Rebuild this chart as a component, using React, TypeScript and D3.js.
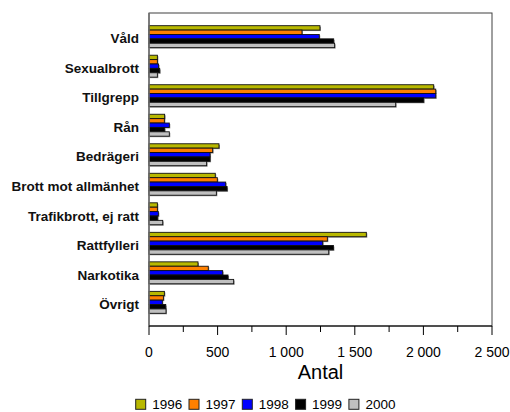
import * as d3 from "d3";
import { useEffect, useRef } from "react";

const categories = [
  "Våld",
  "Sexualbrott",
  "Tillgrepp",
  "Rån",
  "Bedrägeri",
  "Brott mot allmänhet",
  "Trafikbrott, ej ratt",
  "Rattfylleri",
  "Narkotika",
  "Övrigt",
];

const years = ["1996", "1997", "1998", "1999", "2000"];

const values1996 = [1246, 61, 2075, 114, 510, 483, 61, 1584, 357, 112];
const values1997 = [1115, 61, 2090, 112, 464, 498, 61, 1300, 432, 105];
const values1998 = [1241, 70, 2090, 148, 445, 559, 68, 1266, 537, 97];
const values1999 = [1346, 78, 2002, 114, 445, 569, 63, 1344, 576, 122];
const values2000 = [1353, 61, 1798, 148, 420, 491, 100, 1310, 617, 124];

const colors = ["#b8b800", "#ff8000", "#0000ff", "#000000", "#c0c0c0"];

const xTicks = [0, 250, 500, 750, 1000, 1250, 1500, 1750, 2000, 2250, 2500];

const W = 510;
const H = 412;
const FONT = "Arial, 'Liberation Sans', sans-serif";

export default function App() {
  const ref = useRef<SVGSVGElement>(null);

  useEffect(() => {
    const svg = d3.select(ref.current);
    svg.selectAll("*").remove();

    const series = [values1996, values1997, values1998, values1999, values2000];

    const x = d3.scaleLinear().domain([0, 2500]).range([149, 492]);
    const y = d3
      .scaleBand()
      .domain(categories)
      .range([13, 326])
      .paddingInner(0.257)
      .paddingOuter(0.43);
    const yInner = d3.scaleBand().domain(years).range([0, y.bandwidth()]);

    const locale = d3.formatLocale({
      decimal: ",",
      thousands: "\u00a0",
      grouping: [3],
      currency: ["", ""],
    });
    const fmt = locale.format(",d");

    // plot frame
    svg
      .append("rect")
      .attr("x", x(0))
      .attr("y", 13)
      .attr("width", x(2500) - x(0))
      .attr("height", 326 - 13)
      .attr("fill", "white")
      .attr("stroke", "#404040")
      .attr("stroke-width", 1);

    // bars
    const groups = svg
      .selectAll("g.cat")
      .data(categories)
      .enter()
      .append("g")
      .attr("class", "cat")
      .attr("transform", (d) => `translate(0, ${y(d)})`);

    years.forEach((yr, i) => {
      // shadow
      groups
        .append("rect")
        .attr("x", x(0) + 1)
        .attr("y", yInner(yr)! + 1)
        .attr("width", (_, j) => x(series[i][j]) - x(0))
        .attr("height", yInner.bandwidth())
        .attr("fill", "#909090");
      groups
        .append("rect")
        .attr("x", x(0))
        .attr("y", yInner(yr)!)
        .attr("width", (_, j) => x(series[i][j]) - x(0))
        .attr("height", yInner.bandwidth())
        .attr("fill", colors[i])
        .attr("stroke", "#111")
        .attr("stroke-width", 0.9);
    });

    // left axis line
    svg
      .append("line")
      .attr("x1", x(0))
      .attr("x2", x(0))
      .attr("y1", 13)
      .attr("y2", 326)
      .attr("stroke", "#707070")
      .attr("stroke-width", 1.5);

    // bottom axis
    svg
      .append("line")
      .attr("x1", x(0))
      .attr("x2", x(2500))
      .attr("y1", 326)
      .attr("y2", 326)
      .attr("stroke", "#000");

    svg
      .selectAll("line.tick")
      .data(xTicks)
      .enter()
      .append("line")
      .attr("class", "tick")
      .attr("x1", (d) => x(d))
      .attr("x2", (d) => x(d))
      .attr("y1", 326)
      .attr("y2", (d) => (d % 500 === 0 ? 335 : 332))
      .attr("stroke", "#000");

    svg
      .selectAll("text.xlab")
      .data(xTicks.filter((d) => d % 500 === 0))
      .enter()
      .append("text")
      .attr("class", "xlab")
      .attr("x", (d) => x(d))
      .attr("y", 357)
      .attr("text-anchor", "middle")
      .attr("font-family", FONT)
      .attr("font-size", 14)
      .text((d) => fmt(d));

    svg
      .append("text")
      .attr("x", (x(0) + x(2500)) / 2)
      .attr("y", 379)
      .attr("text-anchor", "middle")
      .attr("font-family", FONT)
      .attr("font-size", 20)
      .text("Antal");

    // category labels
    svg
      .selectAll("text.ylab")
      .data(categories)
      .enter()
      .append("text")
      .attr("class", "ylab")
      .attr("x", 139)
      .attr("y", (d) => y(d)! + y.bandwidth() / 2 + 2)
      .attr("dy", "0.35em")
      .attr("text-anchor", "end")
      .attr("font-family", FONT)
      .attr("font-weight", "bold")
      .attr("font-size", 13.5)
      .attr("fill", "#111")
      .text((d) => d);

    // legend
    const legend = svg
      .selectAll("g.leg")
      .data(years)
      .enter()
      .append("g")
      .attr("class", "leg")
      .attr("transform", (_, i) => `translate(${135.7 + i * 53.3}, 399.3)`);
    legend
      .append("rect")
      .attr("width", 10)
      .attr("height", 10)
      .attr("fill", (_, i) => colors[i])
      .attr("stroke", "#222");
    legend
      .append("text")
      .attr("x", 16.5)
      .attr("y", 9.4)
      .attr("font-family", FONT)
      .attr("font-size", 13.5)
      .text((d) => d);
  }, []);

  return (
    <svg
      ref={ref}
      width={W}
      height={H}
      style={{ position: "absolute", left: 0, top: 0, background: "white" }}
    />
  );
}
